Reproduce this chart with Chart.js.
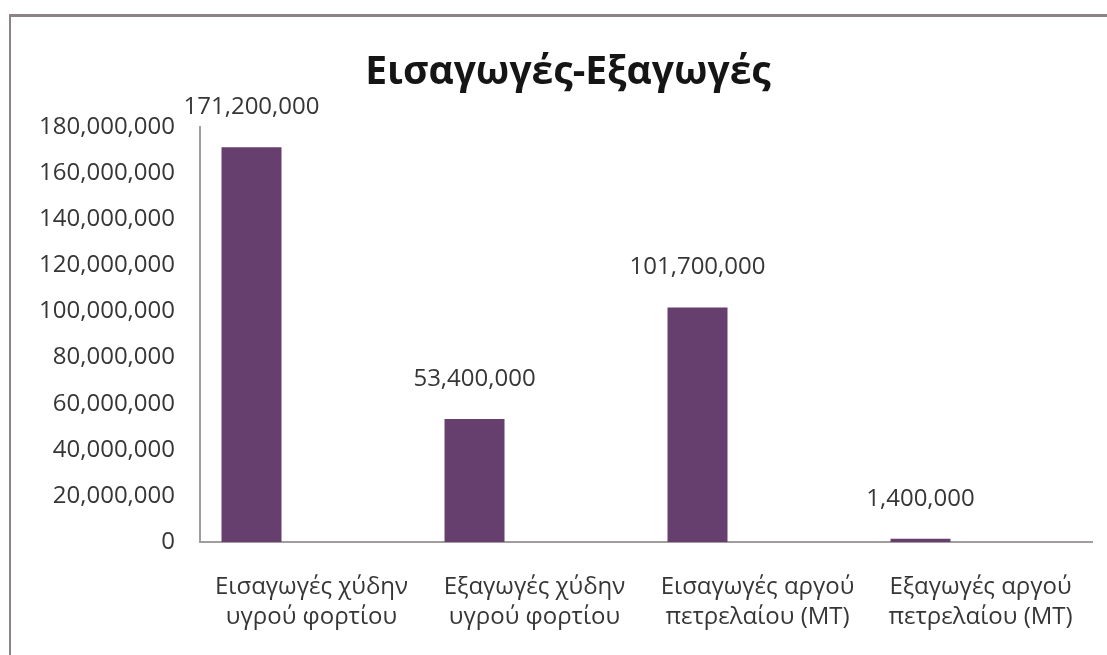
<!DOCTYPE html>
<html>
<head>
<meta charset="utf-8">
<title>Εισαγωγές-Εξαγωγές</title>
<script src="https://cdn.jsdelivr.net/npm/chart.js@4"></script>
<style>
  html, body { margin: 0; padding: 0; background: #ffffff; }
  #wrap { width: 1107px; height: 655px; position: relative; }
</style>
</head>
<body>
<div id="wrap"><canvas id="chart" width="1107" height="655"></canvas></div>
<script>
// Chart title and category labels (each label is split over two lines)
const chartTitle = 'Εισαγωγές-Εξαγωγές';
const categories = [
  ['Εισαγωγές χύδην', 'υγρού φορτίου'],
  ['Εξαγωγές χύδην', 'υγρού φορτίου'],
  ['Εισαγωγές αργού', 'πετρελαίου (MT)'],
  ['Εξαγωγές αργού', 'πετρελαίου (MT)']
];

// Quantities per category; the two other series of the sheet are empty
const quantities = [171200000, 53400000, 101700000, 1400000];
const series2 = [null, null, null, null];
const series3 = [null, null, null, null];

// Value axis
const yMin = 0;
const yMax = 180000000;
const yStep = 20000000;

const FONT = '"Open Sans", "Noto Sans", sans-serif';
const TEXT = '#363636';
const AXIS = '#a39c9d';
const BAR = '#663f6e';

const fmt = v => Number(v).toLocaleString('en-US');

// Frame lines and the title
const framePlugin = {
  id: 'frame',
  beforeDraw(chart) {
    const ctx = chart.ctx;
    ctx.save();
    ctx.fillStyle = '#8c8387';
    ctx.fillRect(10, 14, chart.width - 10, 3);
    ctx.fillRect(9, 14, 2, chart.height - 14);
    ctx.restore();
  },
  afterDraw(chart) {
    const ctx = chart.ctx;
    ctx.save();
    ctx.font = 'bold 39px ' + FONT;
    ctx.fillStyle = '#151515';
    ctx.textAlign = 'center';
    ctx.textBaseline = 'middle';
    ctx.fillText(chartTitle, 568, 73);
    ctx.restore();
  }
};

// Value labels above the bars of the first series
const valueLabels = {
  id: 'valueLabels',
  afterDatasetsDraw(chart) {
    const ctx = chart.ctx;
    const meta = chart.getDatasetMeta(0);
    ctx.save();
    ctx.font = '24px ' + FONT;
    ctx.fillStyle = TEXT;
    ctx.textAlign = 'center';
    ctx.textBaseline = 'middle';
    meta.data.forEach((bar, i) => {
      const v = chart.data.datasets[0].data[i];
      if (v == null) return;
      ctx.fillText(fmt(v), bar.x, bar.y - 40);
    });
    ctx.restore();
  }
};

new Chart(document.getElementById('chart'), {
  type: 'bar',
  data: {
    labels: categories,
    datasets: [
      { label: 'Ποσότητα', data: quantities, backgroundColor: BAR },
      { label: 'Σειρά 2', data: series2, backgroundColor: BAR },
      { label: 'Σειρά 3', data: series3, backgroundColor: BAR }
    ]
  },
  options: {
    responsive: false,
    animation: false,
    devicePixelRatio: 1,
    layout: { padding: { top: 127, right: 15, left: 0, bottom: 0 } },
    datasets: {
      bar: { categoryPercentage: 0.807, barPercentage: 1.0 }
    },
    plugins: {
      legend: { display: false },
      title: { display: false },
      tooltip: { enabled: false }
    },
    scales: {
      x: {
        grid: { display: false, drawTicks: false },
        border: { display: true, color: AXIS, width: 2 },
        ticks: {
          padding: 30,
          color: TEXT,
          font: { family: FONT, size: 24, lineHeight: 1.25 },
          maxRotation: 0,
          autoSkip: false
        },
        afterFit(scale) { scale.height = 113; }
      },
      y: {
        min: yMin,
        max: yMax,
        grid: { display: false, drawTicks: false },
        border: { display: true, color: AXIS, width: 2 },
        ticks: {
          stepSize: yStep,
          padding: 25,
          color: TEXT,
          font: { family: FONT, size: 24 },
          callback: v => fmt(v)
        },
        afterFit(scale) { scale.width = 200; }
      }
    }
  },
  plugins: [framePlugin, valueLabels]
});
</script>
</body>
</html>
